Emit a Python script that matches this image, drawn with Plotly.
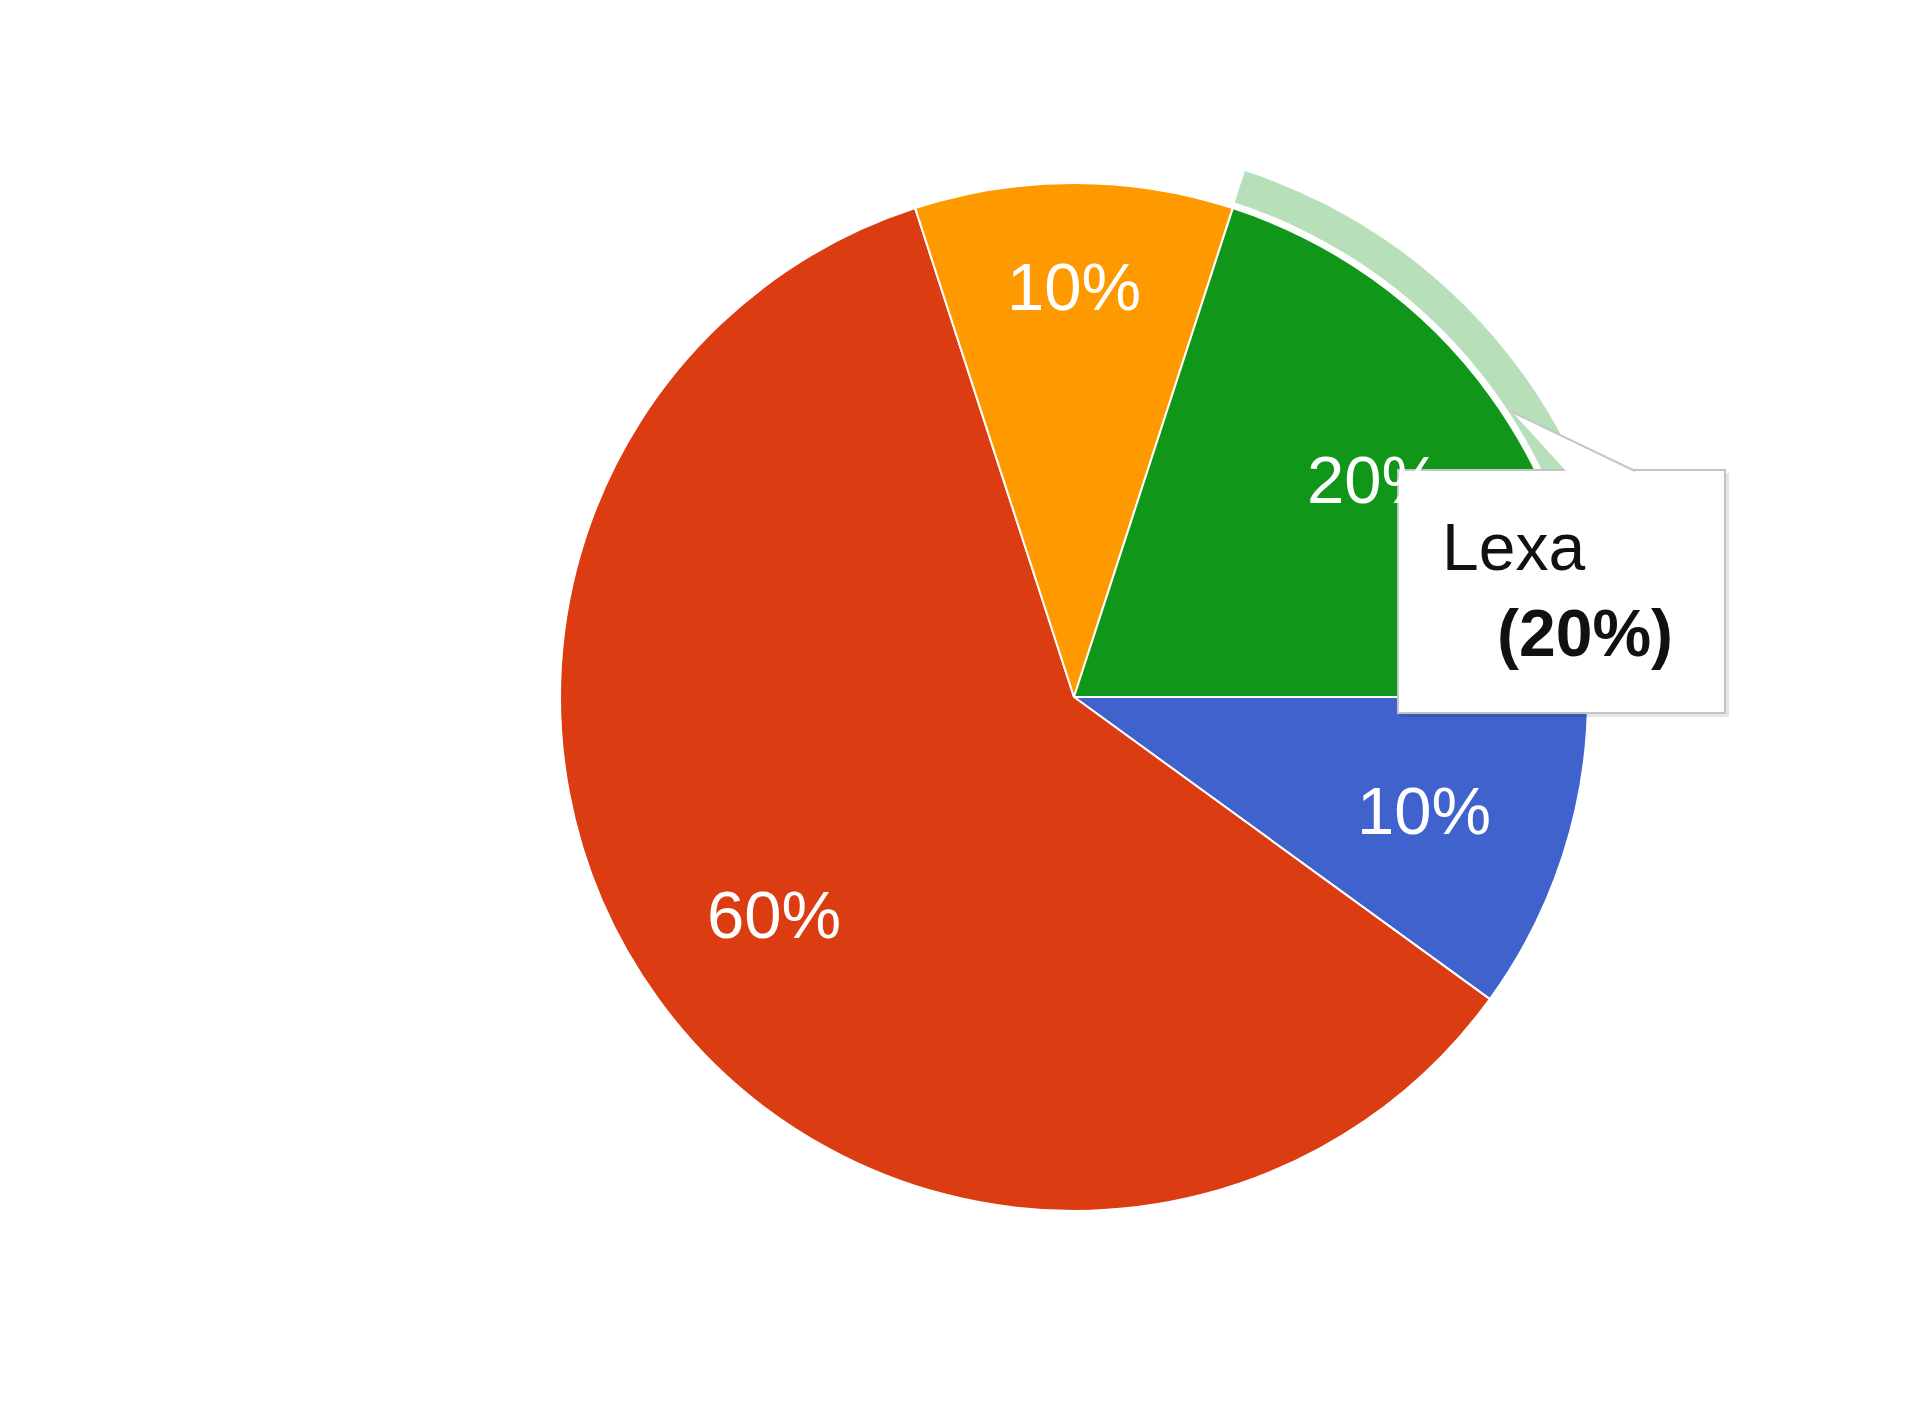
import math
import plotly.graph_objects as go

# ---- data ----
labels = ["Option A", "Option B", "Option C", "Lexa"]
values = [10, 60, 10, 20]
colors = ["#3f62cc", "#dc3c12", "#ff9900", "#109618"]
highlight_label = "Lexa"
ring_color = "rgba(16,150,24,0.3)"

W, H = 1920, 1413
OFF = 8                      # page body margin offset
CX, CY = 1074, 697           # pie centre in screen px
R = 514                      # pie radius in px
RING_IN, RING_OUT = 520, 553
LABEL_K = 0.855              # farthest label-box corner at this fraction of R
FS = 67

def P(sx, sy):
    """screen px -> paper fraction"""
    return (sx - OFF) / W, 1 - (sy - OFF) / H

def dom(r):
    x0, y1 = P(CX - r, CY - r)
    x1, y0 = P(CX + r, CY + r)
    return dict(x=[x0, x1], y=[y0, y1])

total = sum(values)
pcts = [f"{round(100 * v / total)}%" for v in values]

fig = go.Figure()
fig.add_trace(go.Pie(
    labels=labels, values=values, sort=False, direction="clockwise", rotation=90,
    marker=dict(colors=colors, line=dict(color="white", width=2)),
    textinfo="none", hoverinfo="skip", showlegend=False, domain=dom(R),
))
ring_colors = [ring_color if l == highlight_label else "rgba(0,0,0,0)" for l in labels]
fig.add_trace(go.Pie(
    labels=labels, values=values, sort=False, direction="clockwise", rotation=90,
    hole=RING_IN / RING_OUT,
    marker=dict(colors=ring_colors, line=dict(width=0)),
    textinfo="none", hoverinfo="skip", showlegend=False, domain=dom(RING_OUT),
))

# approximate Arial glyph advance widths (em)
GW = {"0": 0.556, "1": 0.556, "2": 0.556, "3": 0.556, "4": 0.556, "5": 0.556,
      "6": 0.556, "7": 0.556, "8": 0.556, "9": 0.556, "%": 0.889}

annotations = []
cum = 0
for v, p in zip(values, pcts):
    theta = math.radians(90 + 360 * (cum + v / 2) / total)
    cum += v
    ux, uy = math.sin(theta), -math.cos(theta)
    hw = sum(GW.get(ch, 0.556) for ch in p) * FS / 2
    hh = 0.716 * FS / 2
    pp = hw * abs(ux) + hh * abs(uy)
    d = -pp + math.sqrt(pp * pp - (hw * hw + hh * hh) + (LABEL_K * R) ** 2)
    px, py = P(CX + d * ux, CY + d * uy)
    annotations.append(dict(
        x=px, y=py, xref="paper", yref="paper", showarrow=False,
        text=p, font=dict(family="Liberation Sans, Arial", size=FS, color="white"),
        xanchor="center", yanchor="middle",
    ))

# tooltip
hi = labels.index(highlight_label)
tip_text = f"{highlight_label}<br>\u00a0\u00a0\u00a0<b>({pcts[hi]})</b>"
bx0, by0, bx1, by1 = 1398, 470, 1725, 713

shapes = []
sx0, sy0 = P(bx0 + 3, by0 + 3)
sx1, sy1 = P(bx1 + 4, by1 + 4)
shapes.append(dict(type="rect", xref="paper", yref="paper", x0=sx0, y0=sy1, x1=sx1, y1=sy0,
                   fillcolor="rgba(0,0,0,0.10)", line=dict(width=0), layer="above"))
x0, y0 = P(bx0, by0)
x1, y1 = P(bx1, by1)
shapes.append(dict(type="rect", xref="paper", yref="paper", x0=x0, y0=y1, x1=x1, y1=y0,
                   fillcolor="white", line=dict(color="#c4c4c4", width=2), layer="above"))
ax, ay = P(1512, 412)
b1x, b1y = P(1566, by0 + 1)
b2x, b2y = P(1635, by0 + 1)
shapes.append(dict(type="path", xref="paper", yref="paper",
                   path=f"M {ax},{ay} L {b2x},{b2y} L {b1x},{b1y} Z",
                   fillcolor="white", line=dict(width=0), layer="above"))
shapes.append(dict(type="line", xref="paper", yref="paper", x0=ax, y0=ay, x1=b2x, y1=b2y,
                   line=dict(color="#c4c4c4", width=2), layer="above"))

tx, ty = P(1440, 590)
annotations.append(dict(
    x=tx, y=ty, xref="paper", yref="paper", showarrow=False, text=tip_text,
    align="left", xanchor="left", yanchor="middle",
    font=dict(family="Liberation Sans, Arial", size=66, color="#111111"),
))

fig.update_layout(
    width=W, height=H, margin=dict(l=0, r=0, t=0, b=0),
    paper_bgcolor="white", plot_bgcolor="white",
    shapes=shapes, annotations=annotations,
)
fig.write_html("out.html")
